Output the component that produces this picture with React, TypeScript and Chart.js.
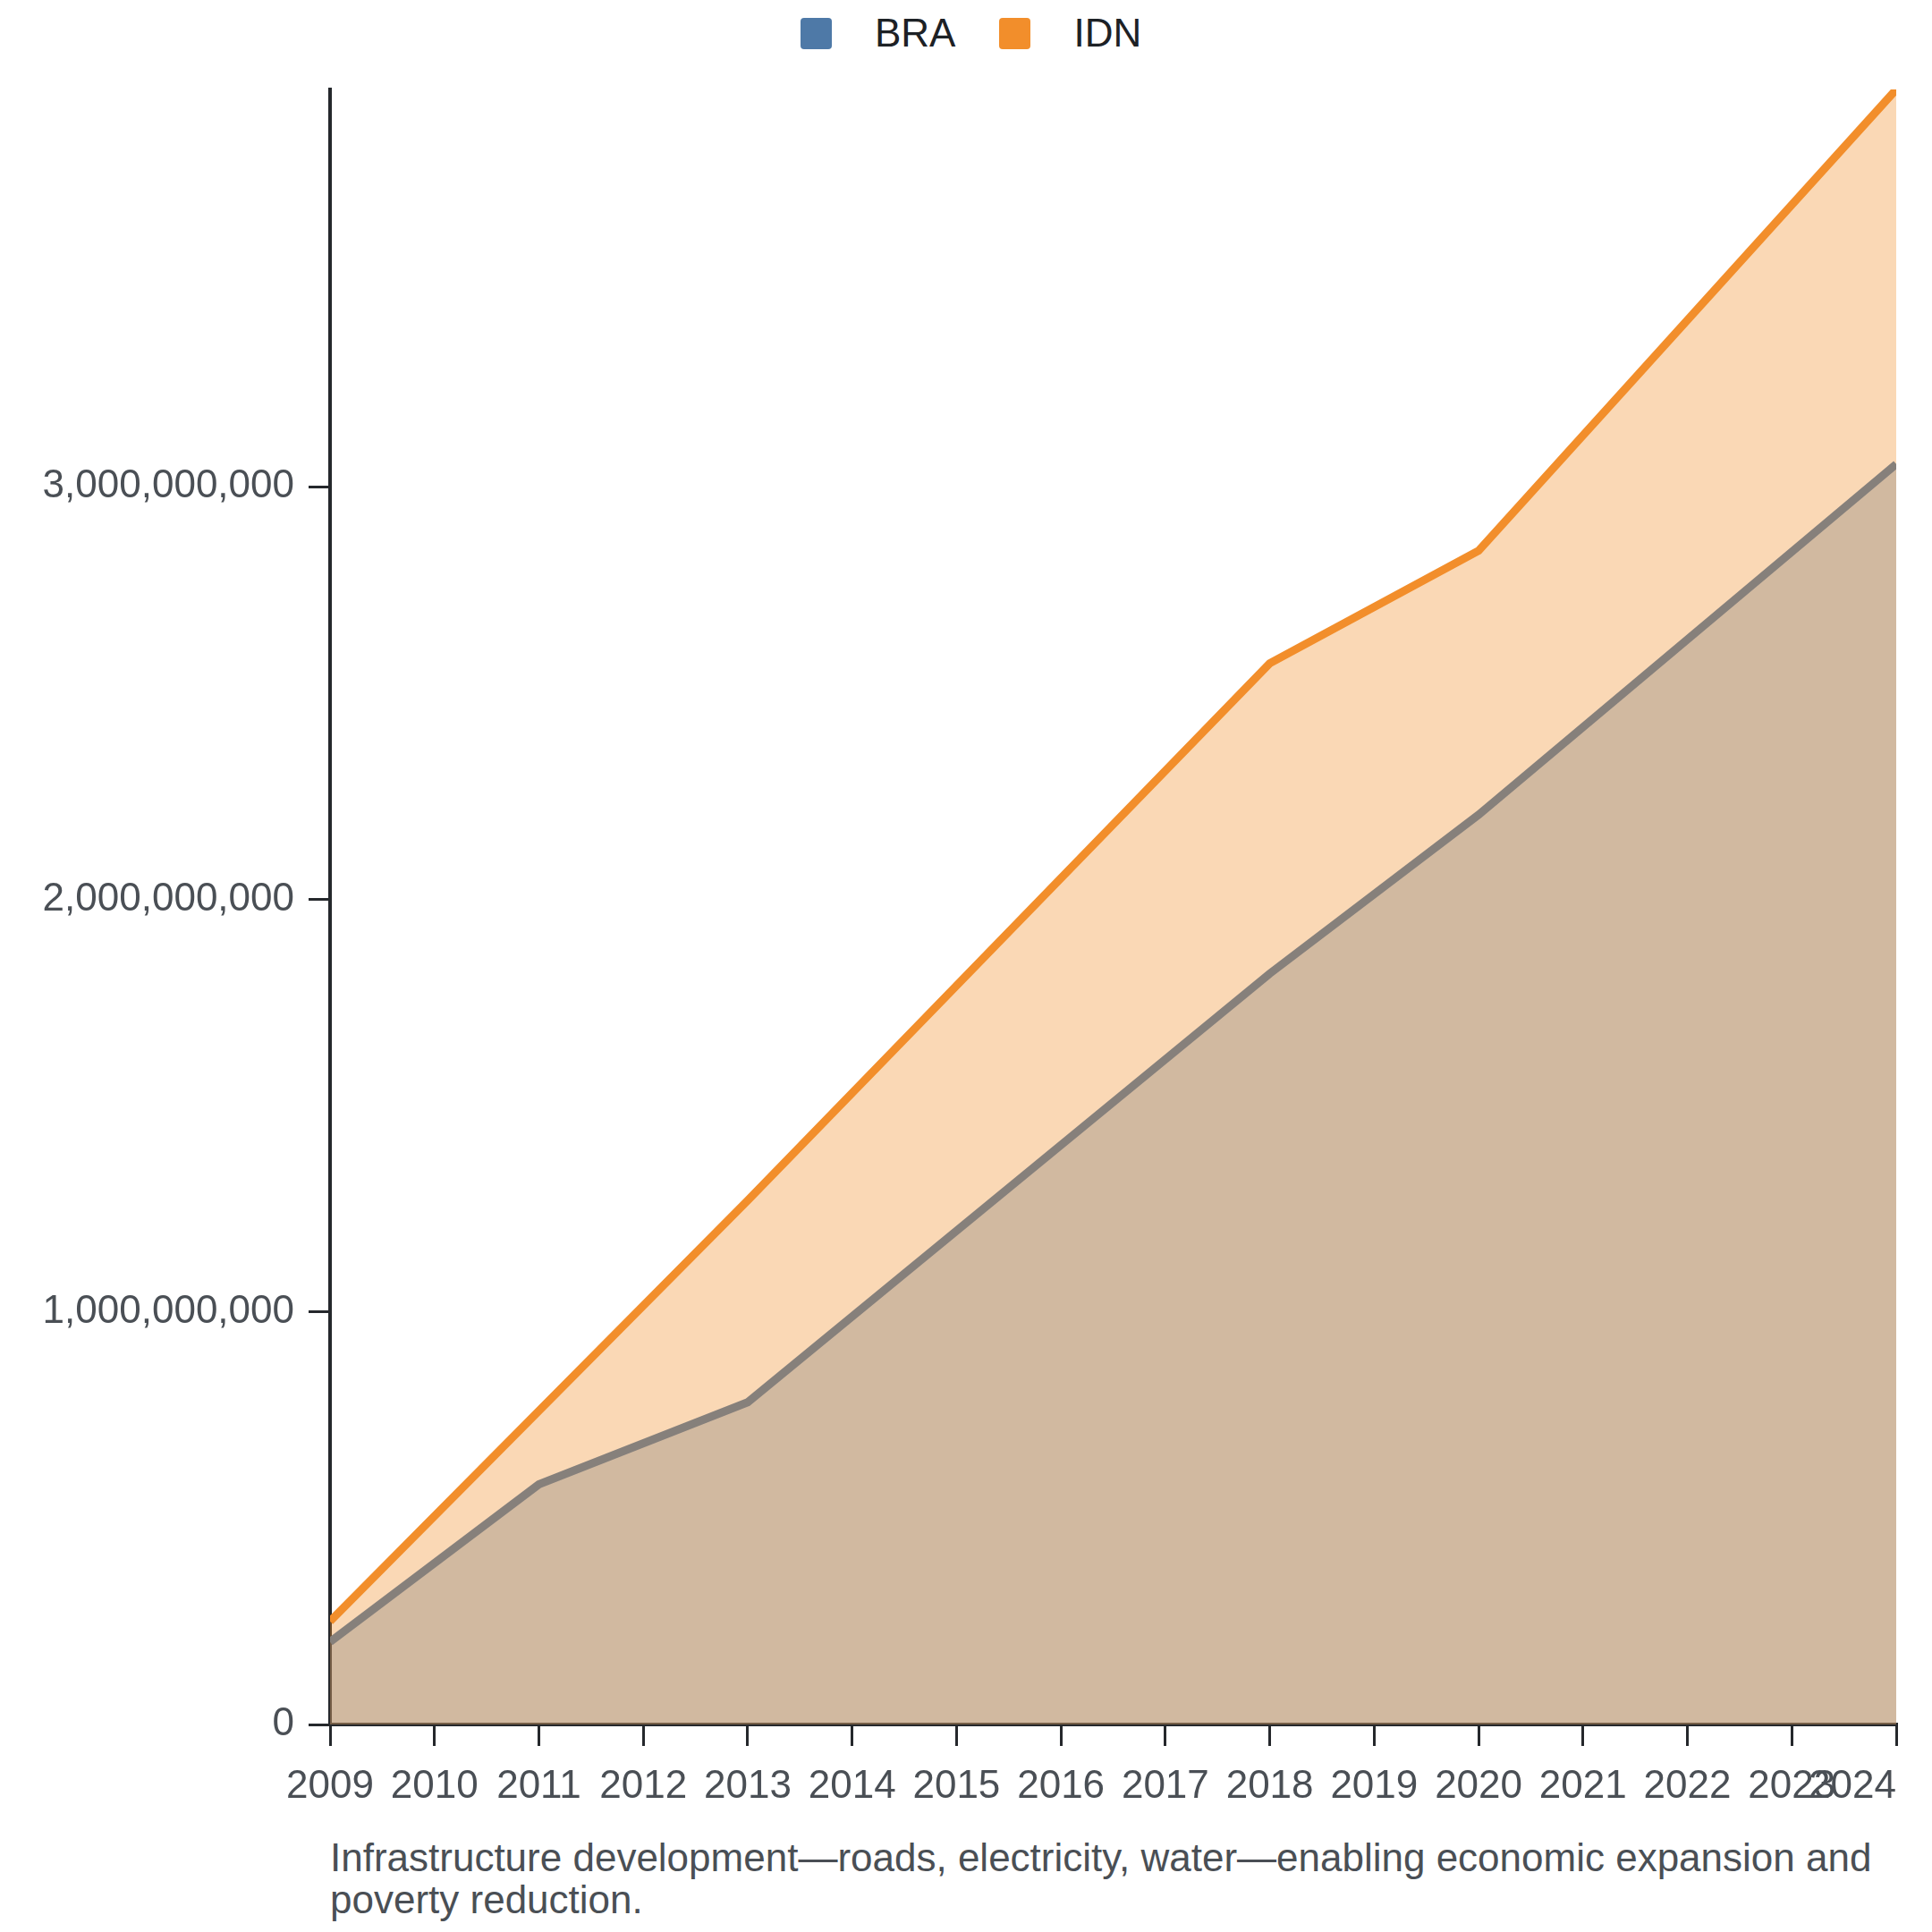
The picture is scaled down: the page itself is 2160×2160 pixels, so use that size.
import { useEffect, useRef } from "react";
import { Chart, registerables } from "chart.js";

Chart.register(...registerables);

// data (only the years where the lines bend)
const years = [2009, 2011, 2013, 2018, 2020, 2024];
const braValues = [200e6, 582e6, 781e6, 1820e6, 2205e6, 3055e6];
const idnValues = [50e6, 178e6, 489e6, 752e6, 640e6, 908e6];
const seriesNames = ["BRA", "IDN"];
const seriesColors = ["#4e79a7", "#f28e2b"];
const seriesFills = ["rgba(78,121,167,0.35)", "rgba(242,142,43,0.35)"];
const yTickValues = [0, 1e9, 2e9, 3e9];
const caption =
  "Infrastructure development\u2014roads, electricity, water\u2014enabling economic expansion and poverty reduction.";

const FONT = '"Liberation Sans", Arial, Helvetica, sans-serif';
const TICK_COLOR = "#4a4f55";
const AXIS_COLOR = "#25282c";
const TICK_LEN = 24;
const X_PAD = 19;
const FONT_SIZE = 44;

const firstYear = years[0];
const lastYear = years[years.length - 1];
// IDN is stacked on top of BRA
const idnStacked = idnValues.map((v, i) => v + braValues[i]);
const maxTotal = Math.max(...idnStacked);

// last x label sits flush with the right end of the axis
const lastYearLabel = {
  id: "lastYearLabel",
  afterDraw(chart: any) {
    const xs = chart.scales.x;
    const ctx = chart.ctx;
    ctx.save();
    ctx.font = `${FONT_SIZE}px ${FONT}`;
    ctx.fillStyle = TICK_COLOR;
    ctx.textAlign = "right";
    ctx.textBaseline = "middle";
    ctx.fillText(String(lastYear), chart.chartArea.right, xs.top + TICK_LEN + X_PAD + (FONT_SIZE * 1.2) / 2);
    ctx.restore();
  },
};

export default function App() {
  const canvasEl = useRef<HTMLCanvasElement>(null);

  useEffect(() => {
    const chart = new Chart(canvasEl.current!, {
      type: "line",
      data: {
        datasets: [
          {
            label: seriesNames[0],
            data: years.map((x, i) => ({ x, y: braValues[i] })),
            borderColor: seriesColors[0],
            backgroundColor: seriesFills[0],
            fill: "origin",
            order: 1,
          },
          {
            label: seriesNames[1],
            data: years.map((x, i) => ({ x, y: idnStacked[i] })),
            borderColor: seriesColors[1],
            backgroundColor: seriesFills[1],
            fill: "origin",
            order: 0,
          },
        ],
      },
      options: {
        animation: false,
        responsive: true,
        maintainAspectRatio: false,
        layout: { padding: { top: 92, right: 32, left: 0, bottom: 0 } },
        elements: {
          point: { radius: 0, hoverRadius: 0 },
          line: { borderWidth: 9, tension: 0, borderJoinStyle: "miter", borderCapStyle: "butt" },
        },
        plugins: {
          legend: { display: false },
          tooltip: { enabled: false },
        },
        scales: {
          x: {
            type: "linear",
            min: firstYear,
            max: lastYear,
            afterFit: (s: any) => {
              s.height = 120;
            },
            border: { display: true, color: AXIS_COLOR, width: 4 },
            grid: { drawOnChartArea: false, drawTicks: true, tickLength: TICK_LEN, color: AXIS_COLOR, lineWidth: 3 },
            ticks: {
              stepSize: 1,
              autoSkip: false,
              maxRotation: 0,
              padding: X_PAD,
              color: TICK_COLOR,
              font: { family: FONT, size: FONT_SIZE },
              callback: (v: any) => (v === lastYear ? "" : String(v)),
            },
          },
          y: {
            type: "linear",
            min: 0,
            max: maxTotal,
            afterFit: (s: any) => {
              s.width = 361;
            },
            afterBuildTicks: (s: any) => {
              s.ticks = yTickValues.map((value) => ({ value }));
            },
            border: { display: true, color: AXIS_COLOR, width: 4 },
            grid: { drawOnChartArea: false, drawTicks: true, tickLength: TICK_LEN, color: AXIS_COLOR, lineWidth: 3 },
            ticks: {
              padding: 16,
              color: TICK_COLOR,
              font: { family: FONT, size: FONT_SIZE },
              callback: (v: any) => Number(v).toLocaleString("en-US"),
            },
          },
        },
      },
      plugins: [lastYearLabel],
    });
    return () => {
      chart.destroy();
    };
  }, []);

  return (
    <div style={{ position: "relative", width: 2144, height: 2144, fontFamily: FONT }}>
      <div
        style={{
          position: "absolute",
          left: 887,
          top: 4,
          display: "flex",
          alignItems: "center",
          fontSize: FONT_SIZE,
          color: "#1d2125",
          whiteSpace: "nowrap",
        }}
      >
        {seriesNames.map((name, i) => (
          <div key={name} style={{ display: "flex", alignItems: "center", marginRight: i === 0 ? 49 : 0 }}>
            <span
              style={{ display: "inline-block", width: 35, height: 35, borderRadius: 4, background: seriesColors[i], marginRight: 48 }}
            />
            <span>{name}</span>
          </div>
        ))}
      </div>
      <div style={{ position: "absolute", left: 0, top: 0, width: 2144, height: 2040 }}>
        <canvas ref={canvasEl} />
      </div>
      <div
        style={{
          position: "absolute",
          left: 361,
          top: 2045,
          width: 1760,
          fontSize: FONT_SIZE,
          lineHeight: "47px",
          color: TICK_COLOR,
        }}
      >
        {caption}
      </div>
    </div>
  );
}
